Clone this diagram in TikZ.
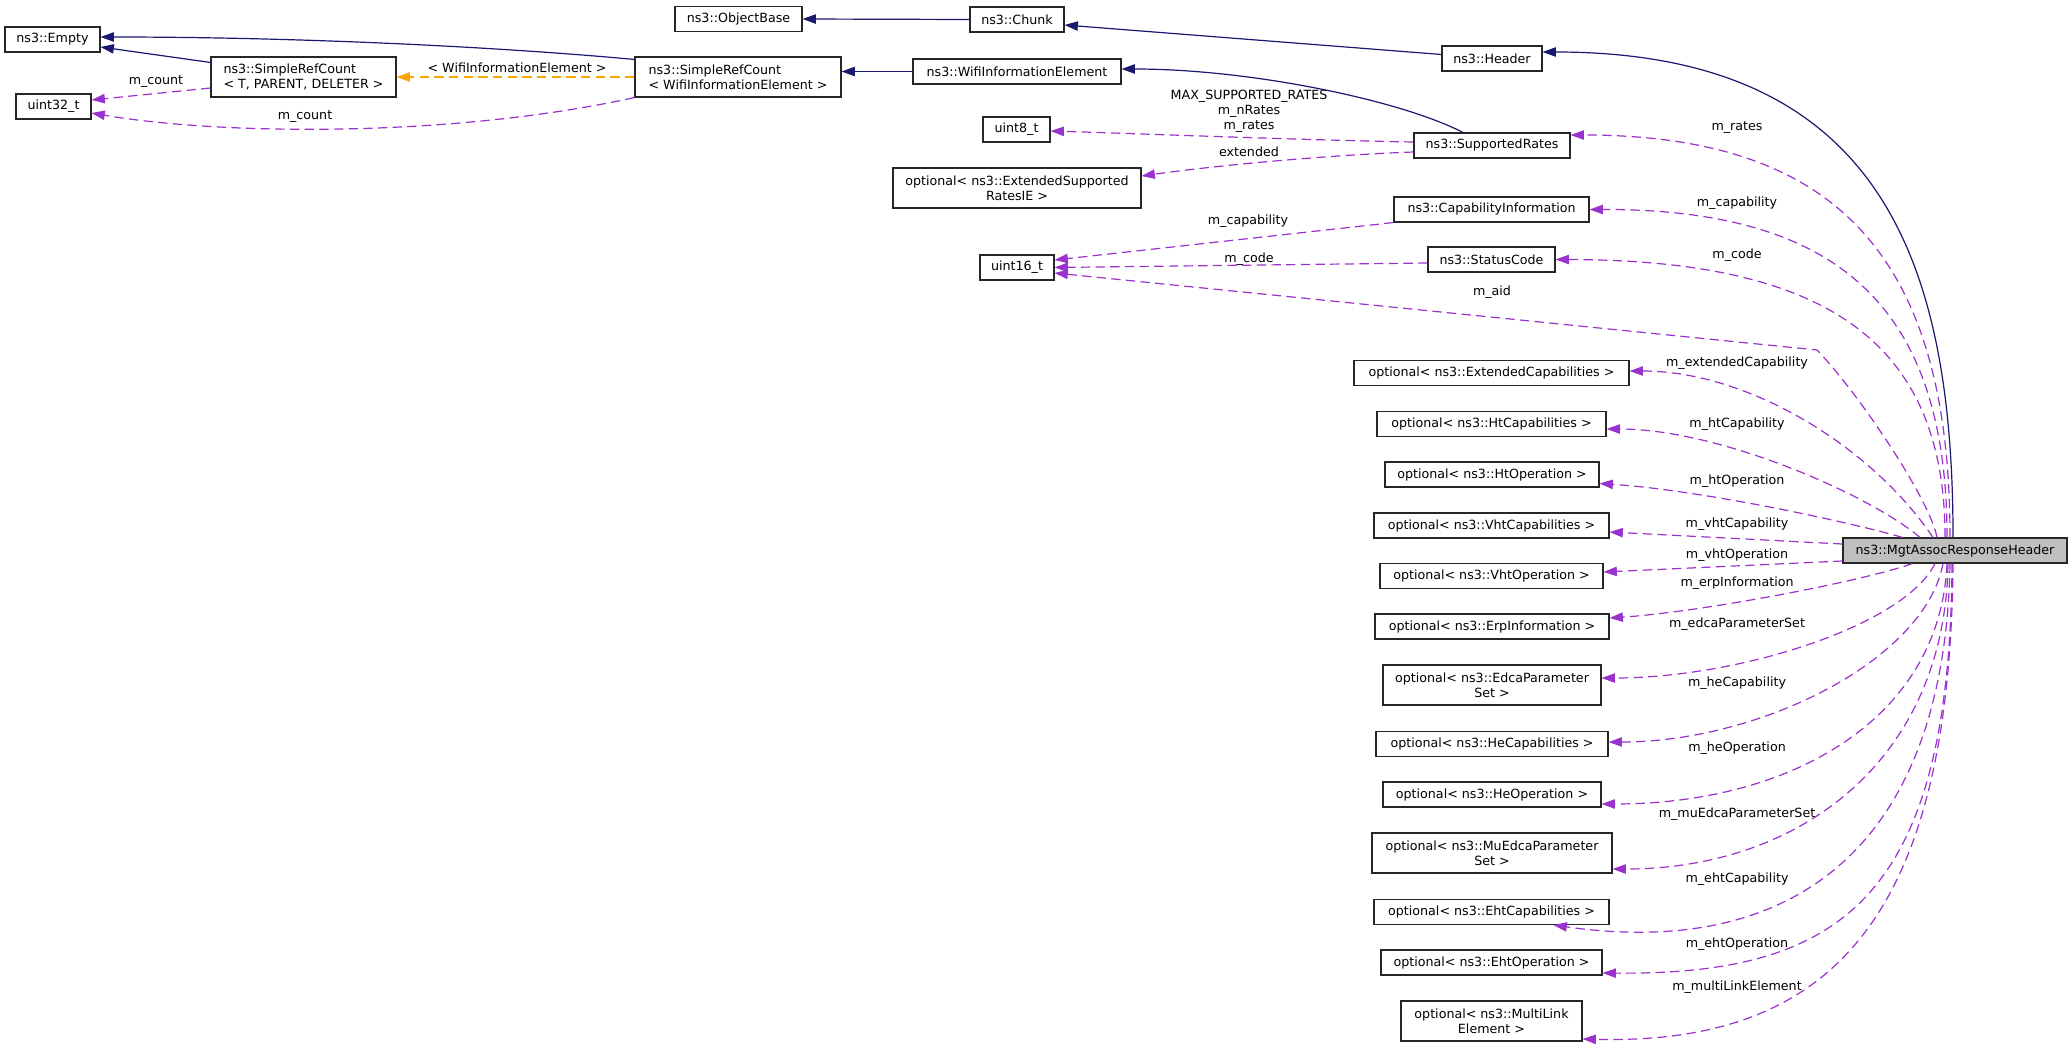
\documentclass[tikz,border=0pt]{standalone}
\usepackage{fontspec}
\setmainfont{DejaVu Sans}
\usetikzlibrary{arrows.meta,calc}
\definecolor{inhcol}{HTML}{191970}
\definecolor{memcol}{HTML}{9A32CD}
\definecolor{tplcol}{HTML}{FFA500}
\definecolor{boxgray}{HTML}{BFBFBF}
\begin{document}
\begin{tikzpicture}[x=0.75pt,y=-0.75pt,
  every node/.style={font=\fontsize{9.5pt}{11.25pt}\selectfont},
  bw/.style={minimum width=#1*0.75pt},
  cls/.style={draw=black!85, line width=0.8pt, inner sep=0pt, minimum height=25*0.75pt},
  clsb/.style={cls, minimum height=40*0.75pt},
  lbl/.style={inner sep=0pt},
  tipstyle/.style={-{Triangle[length=10pt,width=7pt]}},
  inhe/.style={draw=inhcol, line width=0.9pt, tipstyle},
  meme/.style={draw=memcol, line width=0.9pt, dash pattern=on 7pt off 4pt, tipstyle},
  tple/.style={draw=tplcol, line width=0.9pt, dash pattern=on 7pt off 4pt, tipstyle}
]
\useasboundingbox (0,0) rectangle (2072,1049);
\fill[white] (0,0) rectangle (2072,1049);

% nodes
\node[cls, bw=95] (empty) at (52.5,39.5) {ns3::Empty};
\node[cls, bw=75] (u32) at (53.5,106.5) {uint32\_t};
\node[clsb, bw=185, align=left] (srcT) at (303.5,77) {ns3::SimpleRefCount\\< T, PARENT, DELETER >};
\node[clsb, bw=206, align=left] (srcW) at (738,77) {ns3::SimpleRefCount\\< WifiInformationElement >};
\node[cls, bw=127] (objbase) at (738.5,19) {ns3::ObjectBase};
\node[cls, bw=94] (chunk) at (1017,19.5) {ns3::Chunk};
\node[cls, bw=208] (wie) at (1017,71.5) {ns3::WifiInformationElement};
\node[cls, bw=100] (header) at (1492,58.5) {ns3::Header};
\node[cls, bw=156] (sr) at (1492,145.5) {ns3::SupportedRates};
\node[cls, bw=67] (u8) at (1016.5,129.5) {uint8\_t};
\node[clsb, bw=248, align=center] (extsr) at (1017,188) {optional< ns3::ExtendedSupported\\RatesIE >};
\node[cls, bw=195] (capinfo) at (1491.5,209.5) {ns3::CapabilityInformation};
\node[cls, bw=127] (status) at (1491.5,259.5) {ns3::StatusCode};
\node[cls, bw=74] (u16) at (1017,267.5) {uint16\_t};
\node[cls, bw=275] (extcap) at (1491.5,373) {optional< ns3::ExtendedCapabilities >};
\node[cls, bw=229] (htcap) at (1491.5,424) {optional< ns3::HtCapabilities >};
\node[cls, bw=214] (htop) at (1492,474.5) {optional< ns3::HtOperation >};
\node[cls, bw=235] (vhtcap) at (1491.5,525.5) {optional< ns3::VhtCapabilities >};
\node[cls, bw=223] (vhtop) at (1491.5,576) {optional< ns3::VhtOperation >};
\node[cls, bw=234] (erp) at (1492,626.5) {optional< ns3::ErpInformation >};
\node[clsb, bw=218, align=center] (edca) at (1492,685) {optional< ns3::EdcaParameter\\Set >};
\node[cls, bw=232] (hecap) at (1492,744) {optional< ns3::HeCapabilities >};
\node[cls, bw=218] (heop) at (1492,794.5) {optional< ns3::HeOperation >};
\node[clsb, bw=240, align=center] (muedca) at (1492,853) {optional< ns3::MuEdcaParameter\\Set >};
\node[cls, bw=235] (ehtcap) at (1491.5,912) {optional< ns3::EhtCapabilities >};
\node[cls, bw=221] (ehtop) at (1491.5,962.5) {optional< ns3::EhtOperation >};
\node[clsb, bw=181, align=center] (ml) at (1491.5,1021) {optional< ns3::MultiLink\\Element >};
\node[cls, bw=224, fill=boxgray] (mgt) at (1955,550.5) {ns3::MgtAssocResponseHeader};

% left part
\draw[inhe] ($(srcW.north west)+(0,3)$) .. controls (500,47) and (300,37) .. ($(empty.east)+(0,-2.5)$);
\draw[inhe] ($(srcT.north west)+(0,6)$) -- ($(empty.east)+(0,7.5)$);
\draw[meme] ($(srcT.west)+(0,11)$) -- ($(u32.east)+(0,-6.5)$);
\draw[meme] (srcW.south west) .. controls (450,138) and (220,135) .. ($(u32.east)+(0,6.5)$);
\draw[tple] (srcW.west) -- (srcT.east);
\draw[inhe] (wie.west) -- (wie.west -| srcW.east);
\draw[inhe] (chunk.west) -- (objbase.east);
\draw[inhe] ($(header.west)+(0,-4)$) -- ($(chunk.east)+(0,5.5)$);
\draw[inhe] ($(sr.north)+(-29,0)$) .. controls (1400,100) and (1250,69) .. ($(wie.east)+(0,-2.5)$);
\draw[meme] ($(sr.west)+(0,-3.5)$) .. controls (1300,140) and (1120,133) .. ($(u8.east)+(0,1.5)$);
\draw[meme] ($(sr.west)+(0,6.5)$) .. controls (1330,155) and (1220,165) .. ($(extsr.east)+(0,-12)$);
\draw[meme] (capinfo.south west) -- ($(u16.east)+(0,-7.5)$);
\draw[meme] ($(status.west)+(0,3.5)$) -- (u16.east);
\draw[meme] ($(mgt.north)+(-18,0)$) .. controls (1930,500) and (1860,395) .. (1817,350) -- ($(u16.east)+(0,5.5)$);

% right fan, top
\draw[inhe] ($(mgt.north)+(-2,0)$) .. controls (1953,260) and (1880,52) .. ($(header.east)+(0,-6.5)$);
\draw[meme] ($(mgt.north)+(-5,0)$) .. controls (1950,256) and (1836,135) .. ($(sr.east)+(0,-10.5)$);
\draw[meme] ($(mgt.north)+(-8,0)$) .. controls (1947,308) and (1840,209) .. (capinfo.east);
\draw[meme] ($(mgt.north)+(-10,0)$) .. controls (1945,343) and (1828,260) .. (status.east);
\draw[meme] ($(mgt.north)+(-22,0)$) .. controls (1872,447) and (1749,371) .. ($(extcap.east)+(0,-2)$);
\draw[meme] ($(mgt.north)+(-35,0)$) .. controls (1870,495) and (1720,429) .. ($(htcap.east)+(0,5)$);
\draw[meme] ($(mgt.north west)+(60,0)$) .. controls (1850,522) and (1700,490) .. ($(htop.east)+(0,9)$);
\draw[meme] ($(mgt.west)+(0,-6.5)$) -- ($(vhtcap.east)+(0,6.5)$);
\draw[meme] ($(mgt.west)+(0,10.5)$) -- ($(vhtop.east)+(0,-4)$);
% right fan, bottom
\draw[meme] ($(mgt.south west)+(70,0)$) .. controls (1860,582) and (1700,612) .. ($(erp.east)+(0,-8.5)$);
\draw[meme] ($(mgt.south)+(-20,0)$) .. controls (1905,625) and (1740,678) .. ($(edca.east)+(0,-7)$);
\draw[meme] ($(mgt.south)+(-12,0)$) .. controls (1925,660) and (1760,742) .. ($(hecap.east)+(0,-2)$);
\draw[meme] ($(mgt.south)+(-8,0)$) .. controls (1940,720) and (1790,804) .. ($(heop.east)+(0,9.5)$);
\draw[meme] ($(mgt.south)+(-7,0)$) .. controls (1945,760) and (1800,869) .. ($(muedca.east)+(0,16)$);
\draw[meme] ($(mgt.south)+(-5,0)$) .. controls (1945,840) and (1800,960) .. ($(ehtcap.south)+(62,0)$);
\draw[meme] ($(mgt.south)+(-3,0)$) .. controls (1950,900) and (1840,975) .. ($(ehtop.east)+(0,10.5)$);
\draw[meme] ($(mgt.south)+(-2,0)$) .. controls (1950,920) and (1830,1045) .. ($(ml.east)+(0,18)$);

% labels
\node[lbl] (lwie) at (517,68) {< WifiInformationElement >};
\node[lbl] (lcnt1) at (156,82) {m\_count};
\node[lbl] (lcnt2) at (305,117) {m\_count};
\node[lbl, align=center] (lmax) at (1249,111) {MAX\_SUPPORTED\_RATES\\m\_nRates\\m\_rates};
\node[lbl] (lext) at (1249,152) {extended};
\node[lbl] (lcap1) at (1248,221) {m\_capability};
\node[lbl] (lcode1) at (1249,259) {m\_code};
\node[lbl] (laid) at (1492,292) {m\_aid};
\node[lbl] (lrates) at (1737,128) {m\_rates};
\node[lbl] (lcap2) at (1737,203) {m\_capability};
\node[lbl] (lcode2) at (1737,255) {m\_code};
\node[lbl] (lextcap) at (1737,363) {m\_extendedCapability};
\node[lbl] (lhtcap) at (1737,424) {m\_htCapability};
\node[lbl] (lhtop) at (1737,481) {m\_htOperation};
\node[lbl] (lvhtcap) at (1737,524) {m\_vhtCapability};
\node[lbl] (lvhtop) at (1737,555) {m\_vhtOperation};
\node[lbl] (lerp) at (1737,583) {m\_erpInformation};
\node[lbl] (ledca) at (1737,624) {m\_edcaParameterSet};
\node[lbl] (lhecap) at (1737,683) {m\_heCapability};
\node[lbl] (lheop) at (1737,748) {m\_heOperation};
\node[lbl] (lmuedca) at (1737,814) {m\_muEdcaParameterSet};
\node[lbl] (lehtcap) at (1737,879) {m\_ehtCapability};
\node[lbl] (lehtop) at (1737,944) {m\_ehtOperation};
\node[lbl] (lml) at (1737,987) {m\_multiLinkElement};
\end{tikzpicture}
\end{document}
